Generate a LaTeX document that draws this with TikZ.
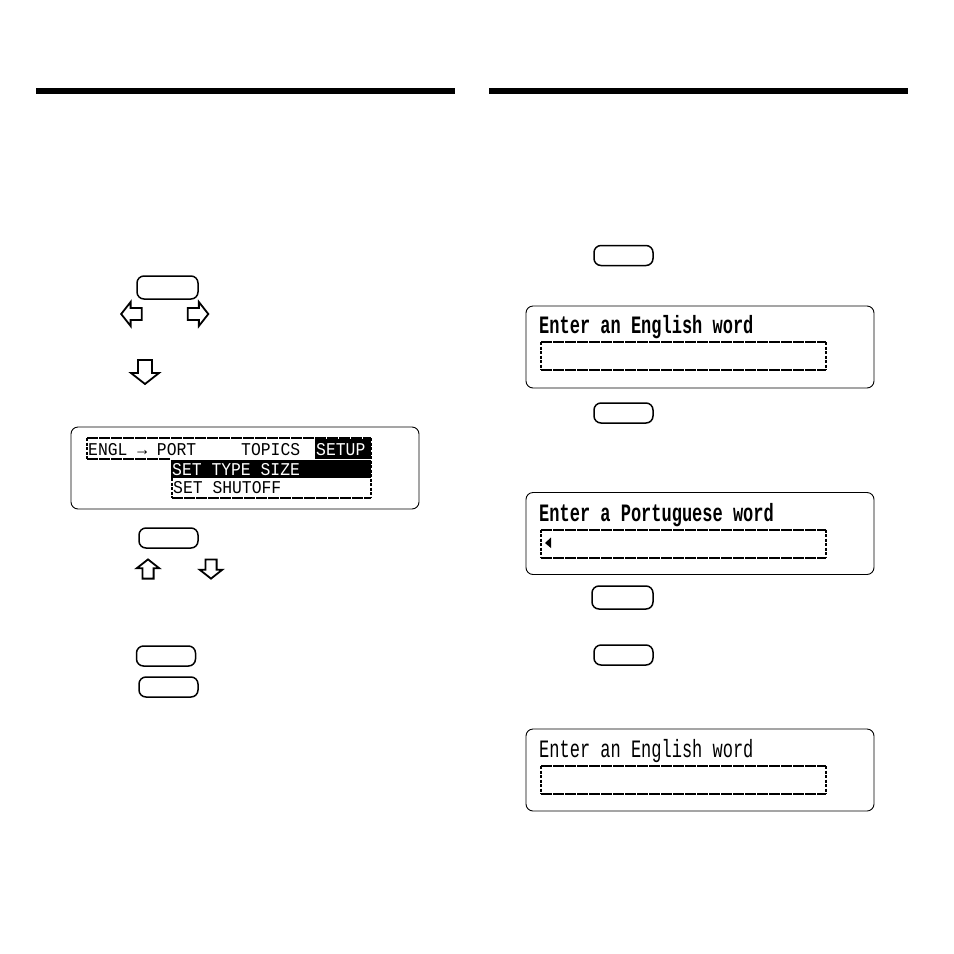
\documentclass[tikz,border=0pt]{standalone}
\usepackage{fontspec}
\newfontfamily\lcdbigfont[FakeStretch=0.68]{Liberation Mono}
\newfontfamily\lcdsmallfont[FakeStretch=0.91]{Liberation Mono}
\tikzset{
  keybox/.style={draw,line width=1.5pt,rounded corners=7pt,minimum width=59pt,minimum height=20pt,inner sep=0pt},
  lcdscreen/.style={draw,line width=0.9pt,rounded corners=7pt,minimum width=348pt,minimum height=82pt,inner sep=0pt},
  headbar/.style={fill=black,minimum width=419pt,minimum height=6pt,inner sep=0pt},
  lcdh/.style={line width=2pt,dash pattern=on 11pt off 1pt},
  lcdv/.style={line width=2pt,dash pattern=on 3pt off 1.5pt},
  lcdbig/.style={anchor=base west,inner sep=0pt,font=\lcdbigfont\fontsize{25}{25}\selectfont},
  lcdsmall/.style={anchor=base west,inner sep=0pt,font=\lcdsmallfont\fontsize{18}{18}\selectfont},
  inkblock/.style={fill=black,inner sep=0pt},
  arrowkey/.pic={\draw[line width=1.8pt,line join=miter] (-7,-12) -- (7,-12) -- (7,1) -- (14,1) -- (0,12) -- (-14,1) -- (-7,1) -- cycle;},
  lcdfield/.pic={
    \draw[lcdh] (0,0) -- (285,0);
    \draw[lcdh] (0,28) -- (285,28);
    \draw[lcdv] (0,0) -- (0,28);
    \draw[lcdv] (285,0) -- (285,28);
  }
}
\begin{document}
\begin{tikzpicture}[x=1pt,y=-1pt]
\useasboundingbox (0,0) rectangle (954,954);
% header bars
\node[headbar] (barleft) at (245.5,91) {};
\node[headbar] (barright) at (698.5,91) {};
% left column, keys and arrows
\node[keybox,minimum width=61pt,minimum height=23pt] (keymenu) at (167.5,287.5) {};
\pic[rotate=-90,scale=.86] at (131.5,314) {arrowkey};
\pic[rotate=90,scale=.86] at (198,314) {arrowkey};
\pic at (145,372) {arrowkey};
% left column, menu screen
\node[lcdscreen] (scrmenu) at (245,468) {};
\draw[lcdv] (87,438) -- (87,459);
\draw[lcdh] (87,438) -- (371,438);
\draw[lcdh] (87,459) -- (171,459);
\draw[lcdv] (371,438) -- (371,498);
\draw[lcdv] (172,460) -- (172,498);
\draw[lcdh] (172,498) -- (371,498);
\node[inkblock,minimum width=56pt,minimum height=20pt] (setupblock) at (343,449) {};
\node[inkblock,minimum width=200pt,minimum height=18pt] (sizeblock) at (271,469) {};
\node[lcdsmall] (txtengl) at (88,455) {ENGL → PORT};
\node[lcdsmall] (txttopics) at (241,455) {TOPICS};
\node[lcdsmall,text=white] (txtsetup) at (316,455) {SETUP};
\node[lcdsmall,text=white] (txtsize) at (172,475) {SET TYPE SIZE};
\node[lcdsmall] (txtshutoff) at (173,493) {SET SHUTOFF};
% left column, lower keys
\node[keybox] (keyenter) at (168.5,538) {};
\pic[rotate=180,scale=.8] at (148,569) {arrowkey};
\pic[scale=.8] at (211,569) {arrowkey};
\node[keybox] (keyback) at (166,656) {};
\node[keybox] (keyclear) at (168.5,687) {};
% right column
\node[keybox] (keytrans) at (623.5,255.5) {};
\node[lcdscreen] (screng) at (700,347) {};
\node[lcdbig,font=\lcdbigfont\bfseries\fontsize{25}{25}\selectfont] (txteng) at (539,333) {Enter an English word};
\pic at (541,342) {lcdfield};
\node[keybox] (keyswap) at (623.5,413) {};
\node[lcdscreen] (scrport) at (700,533.5) {};
\node[lcdbig,font=\lcdbigfont\bfseries\fontsize{25}{25}\selectfont] (txtport) at (539,521) {Enter a Portuguese word};
\pic at (541,529.5) {lcdfield};
\fill (551,537.5) -- (551,548) -- (545,543) -- cycle;
\node[keybox,minimum width=61pt,minimum height=23pt] (keyswapback) at (622.5,597.5) {};
\node[keybox] (keyclearr) at (623.5,655) {};
\node[lcdscreen] (scrend) at (700,770) {};
\node[lcdbig] (txtend) at (539,757) {Enter an English word};
\pic at (541,766) {lcdfield};
\end{tikzpicture}
\end{document}
